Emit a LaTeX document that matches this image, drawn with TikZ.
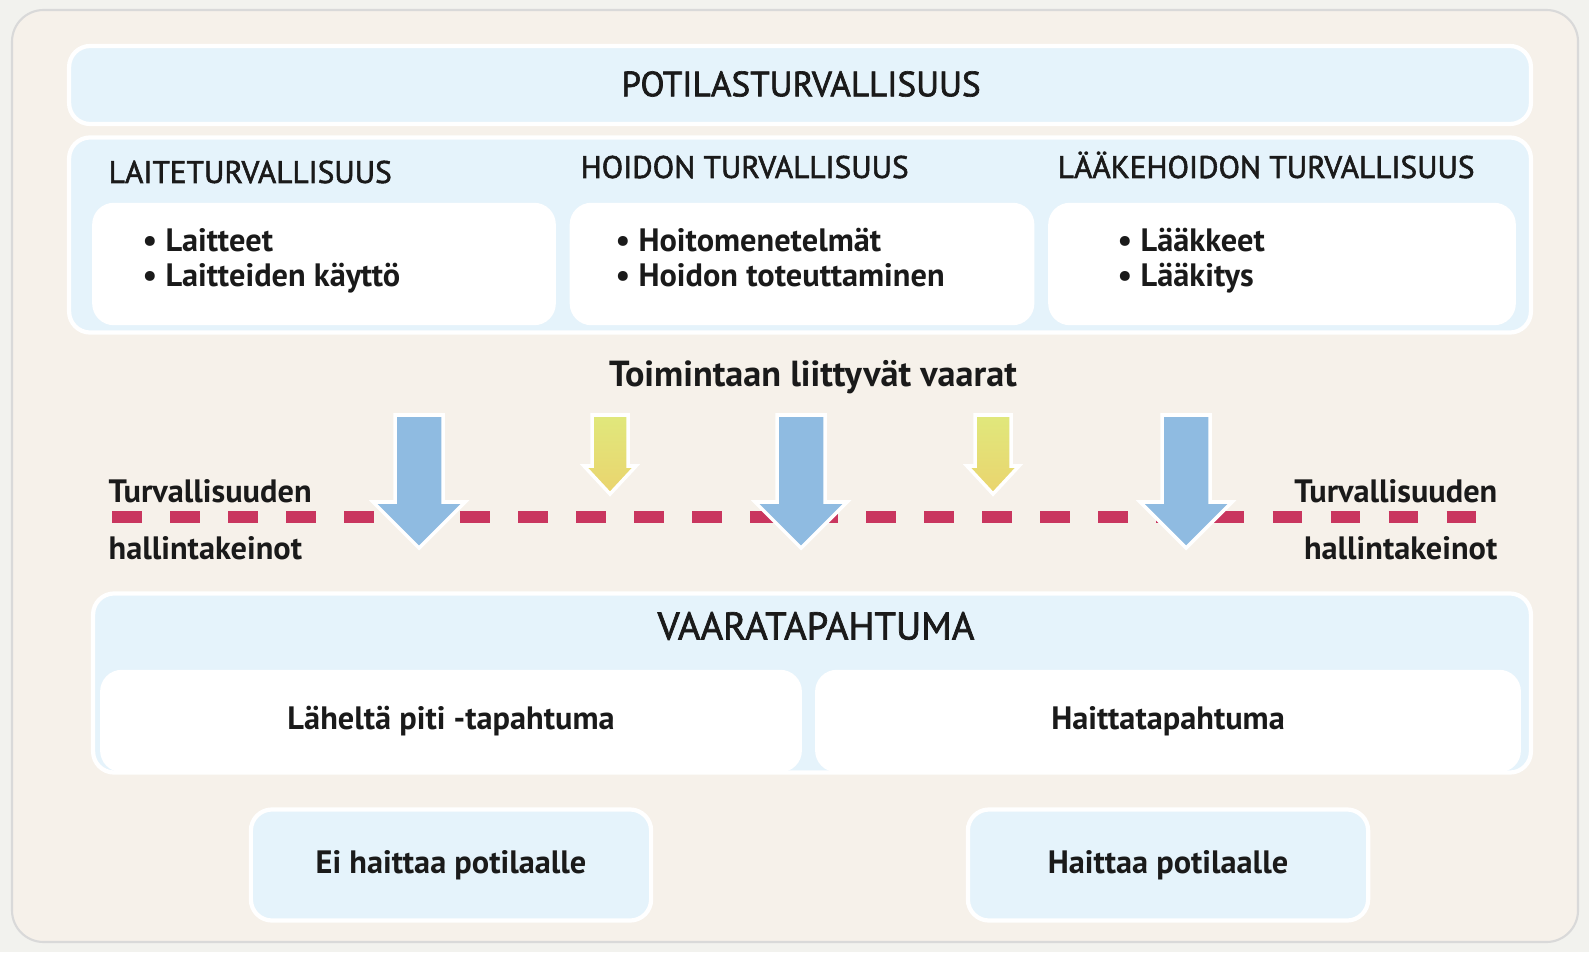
\documentclass[tikz,border=0pt]{standalone}
\usepackage{fontspec}
\setmainfont{PT Sans}
\newfontfamily\headfont{PT Sans}[FakeBold=1.8]
\usetikzlibrary{positioning}

\definecolor{pageback}{HTML}{F2F2EE}
\definecolor{frameback}{HTML}{F6F1EA}
\definecolor{panelblue}{HTML}{E5F3FB}
\definecolor{arrowblue}{HTML}{8FBBE1}
\definecolor{arrowyelA}{HTML}{E0E87C}
\definecolor{arrowyelB}{HTML}{EAD46E}
\definecolor{dashred}{HTML}{C9365F}
\definecolor{inkgray}{HTML}{1A1A1A}

\tikzset{
  panel/.style={fill=panelblue, draw=white, line width=1.2pt, rounded corners=6pt, inner sep=0pt},
  whitebox/.style={fill=white, draw=white, rounded corners=6pt, inner sep=0pt},
  headtext/.style={text=inkgray, font=\headfont\fontsize{8.9}{11}\selectfont, inner sep=0pt},
  titletext/.style={text=inkgray, font=\headfont\fontsize{10}{12}\selectfont, inner sep=0pt},
  itemtext/.style={text=inkgray, font=\fontsize{9.2}{11}\selectfont\bfseries, inner sep=0pt},
  bluearrow/.style={fill=arrowblue, draw=white, line width=1pt},
  yellowarrow/.style={top color=arrowyelA, bottom color=arrowyelB, draw=white, line width=1pt},
  dashline/.style={dashred, line width=3.4pt, dash pattern=on 8.5pt off 8pt}
}

\begin{document}
\begin{tikzpicture}[x=0.01cm, y=-0.01cm]
    \useasboundingbox (0,0) rectangle (1589,952);
    \fill[pageback] (0,0) rectangle (1589,952);
    \filldraw[fill=frameback, draw=white!85!black, line width=0.6pt, rounded corners=9pt] (12,10) rectangle (1578,942);

    % top level
    \node[panel, minimum width=14.61cm, minimum height=0.78cm] (potilas) at (800,85) {};
    \node[titletext] (potilastxt) at (801,84) {POTILASTURVALLISUUS};

    % three areas
    \node[panel, minimum width=14.61cm, minimum height=1.95cm] (alueet) at (800,235) {};
    \node[headtext, anchor=base west] (laitehead) at (108,183) {LAITETURVALLISUUS};
    \node[headtext, anchor=base west] (hoitohead) at (580,178) {HOIDON TURVALLISUUS};
    \node[headtext, anchor=base west] (laakehead) at (1057,178) {LÄÄKEHOIDON TURVALLISUUS};
    \node[whitebox, minimum width=4.62cm, minimum height=1.21cm] (laitebox) at (324,264) {};
    \node[whitebox, minimum width=4.63cm, minimum height=1.21cm] (hoitobox) at (802,264) {};
    \node[whitebox, minimum width=4.66cm, minimum height=1.21cm] (laakebox) at (1282,264) {};
    \node[itemtext, anchor=base west] (laite1) at (142,252) {• Laitteet};
    \node[itemtext, anchor=base west] (laite2) at (142,287) {• Laitteiden käyttö};
    \node[itemtext, anchor=base west] (hoito1) at (615,252) {• Hoitomenetelmät};
    \node[itemtext, anchor=base west] (hoito2) at (615,287) {• Hoidon toteuttaminen};
    \node[itemtext, anchor=base west] (laake1) at (1117,252) {• Lääkkeet};
    \node[itemtext, anchor=base west] (laake2) at (1117,287) {• Lääkitys};

    % hazards and barriers
    \node[itemtext, font=\fontsize{10.3}{12}\selectfont\bfseries] (vaarat) at (813,377) {Toimintaan liittyvät vaarat};
    \coordinate (viivaL) at (112,517);
    \coordinate (viivaR) at (1490,517);
    \draw[dashline] (viivaL) -- (viivaR);
    \node[itemtext, anchor=west] (hallL1) at (108,491) {Turvallisuuden};
    \node[itemtext, anchor=west] (hallL2) at (108,548) {hallintakeinot};
    \node[itemtext, anchor=east] (hallR1) at (1498,491) {Turvallisuuden};
    \node[itemtext, anchor=east] (hallR2) at (1498,548) {hallintakeinot};

    \filldraw[bluearrow] (395,415) -- ++(48,0) -- ++(0,87) -- ++(22,0) -- ++(-46,46) -- ++(-46,-46) -- ++(22,0) -- cycle;
    \filldraw[bluearrow] (777,415) -- ++(48,0) -- ++(0,87) -- ++(22,0) -- ++(-46,46) -- ++(-46,-46) -- ++(22,0) -- cycle;
    \filldraw[bluearrow] (1162,415) -- ++(48,0) -- ++(0,87) -- ++(22,0) -- ++(-46,46) -- ++(-46,-46) -- ++(22,0) -- cycle;
    \filldraw[yellowarrow] (592,415) -- ++(36,0) -- ++(0,51) -- ++(8,0) -- ++(-26,28) -- ++(-26,-28) -- ++(8,0) -- cycle;
    \filldraw[yellowarrow] (975,415) -- ++(36,0) -- ++(0,51) -- ++(8,0) -- ++(-26,28) -- ++(-26,-28) -- ++(8,0) -- cycle;

    % incident
    \node[panel, minimum width=14.37cm, minimum height=1.79cm] (tapahtuma) at (812,683) {};
    \node[titletext, font=\headfont\fontsize{11}{13}\selectfont] (tapahtumatxt) at (816,626) {VAARATAPAHTUMA};
    \node[whitebox, itemtext, minimum width=7.00cm, minimum height=1.01cm] (lahelta) at (451,721) {Läheltä piti -tapahtuma};
    \node[whitebox, itemtext, minimum width=7.04cm, minimum height=1.01cm] (haitta) at (1168,721) {Haittatapahtuma};

    % outcome
    \node[panel, itemtext, minimum width=4.00cm, minimum height=1.11cm] (eihaittaa) at (451,865) {Ei haittaa potilaalle};
    \node[panel, itemtext, minimum width=4.00cm, minimum height=1.11cm] (haittaa) at (1168,865) {Haittaa potilaalle};
\end{tikzpicture}
\end{document}
